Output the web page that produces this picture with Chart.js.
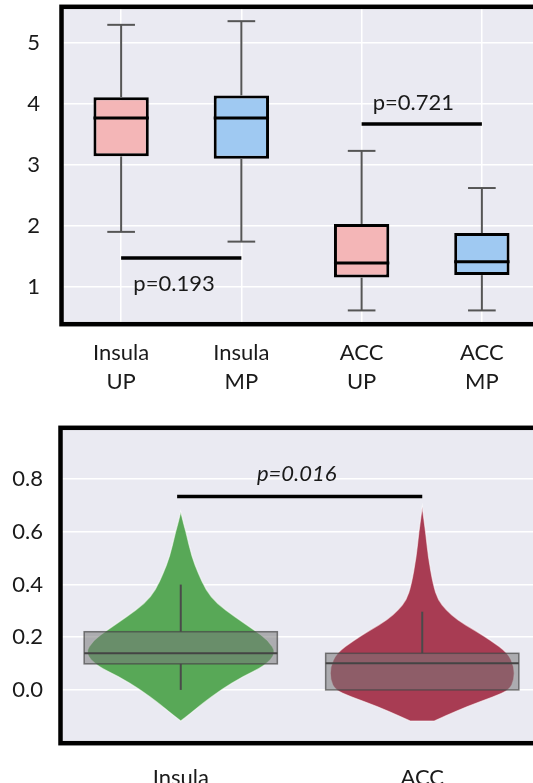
<!DOCTYPE html>
<html>
<head>
<meta charset="utf-8">
<script src="https://cdn.jsdelivr.net/npm/chart.js@4.4.1/dist/chart.umd.min.js"></script>
<style>
  html, body { margin: 0; padding: 0; background: #fff; overflow: hidden; }
  body { width: 533px; height: 783px; position: relative; }
  canvas { position: absolute; left: 0; }
  #topChart { top: 0; }
  #bottomChart { top: 410px; }
</style>
</head>
<body>
<canvas id="topChart" width="560" height="400"></canvas>
<canvas id="bottomChart" width="560" height="373"></canvas>
<script>
// Top panel: box plots
const topCategories = [['Insula', 'UP'], ['Insula', 'MP'], ['ACC', 'UP'], ['ACC', 'MP']];
const topWhiskerLow = [1.90, 1.74, 0.61, 0.61];
const topQ1 = [3.14, 3.10, 1.15, 1.19];
const topMedian = [3.77, 3.77, 1.39, 1.41];
const topQ3 = [4.11, 4.14, 2.03, 1.88];
const topWhiskerHigh = [5.30, 5.36, 3.23, 2.62];
const topTicks = [1, 2, 3, 4, 5];

// p-value brackets (from category, to category, height) and labels
const topPLabels = ['p=0.193', 'p=0.721'];
const topPFrom = [0, 2];
const topPTo = [1, 3];
const topPLevel = [1.47, 3.67];

// Bottom panel: violins
const violinGroups = ['Insula', 'ACC'];
const insulaLevels = [0.677, 0.632, 0.595, 0.506, 0.443, 0.380, 0.329, 0.278, 0.228, 0.190, 0.139, 0.089, 0.051, 0.000, -0.051, -0.089, -0.118];
const insulaDensity = [0, 0.012, 0.023, 0.046, 0.073, 0.104, 0.149, 0.224, 0.303, 0.361, 0.398, 0.344, 0.257, 0.166, 0.091, 0.041, 0];
const accLevels = [0.696, 0.595, 0.506, 0.398, 0.342, 0.304, 0.266, 0.228, 0.190, 0.139, 0.089, 0.038, 0.000, -0.025, -0.063, -0.101, -0.118];
const accDensity = [0, 0.015, 0.025, 0.046, 0.066, 0.099, 0.145, 0.215, 0.282, 0.356, 0.381, 0.381, 0.361, 0.298, 0.186, 0.091, 0.050];
const violinLow = [0.0, 0.0];
const violinQ1 = [0.099, 0.0];
const violinMedian = [0.139, 0.101];
const violinQ3 = [0.221, 0.139];
const violinHigh = [0.40, 0.297];
const bottomTicks = [0, 0.2, 0.4, 0.6, 0.8];
const bottomPLabel = 'p=0.016';
const bottomPLevel = 0.734;

const FONT = 'Lato, "Open Sans", sans-serif';
const TEXT = '#1a1a1a';
const PANEL_BG = '#eaeaf2';

const panelBackground = {
  id: 'panelBackground',
  beforeDraw(chart) {
    const { ctx, chartArea: a } = chart;
    ctx.save();
    ctx.fillStyle = PANEL_BG;
    ctx.fillRect(a.left, a.top, a.right - a.left, a.bottom - a.top);
    ctx.restore();
  },
};

function drawFrame(chart) {
  const { ctx, chartArea: a } = chart;
  ctx.save();
  ctx.strokeStyle = '#000';
  ctx.lineWidth = 4.5;
  ctx.strokeRect(a.left + 0.5, a.top - 2.2, a.right - a.left + 10, a.bottom - a.top + 4.4);
  ctx.restore();
}

// keep the axes from reserving room for half a label at each end
function noEndPadding(s) {
  s.paddingTop = 0;
  s.paddingBottom = 0;
  s.paddingLeft = 0;
  s.paddingRight = 0;
}

function hLine(ctx, x1, x2, y, color, width) {
  ctx.beginPath();
  ctx.strokeStyle = color;
  ctx.lineWidth = width;
  ctx.moveTo(x1, y);
  ctx.lineTo(x2, y);
  ctx.stroke();
}

function vLine(ctx, x, y1, y2, color, width) {
  ctx.beginPath();
  ctx.strokeStyle = color;
  ctx.lineWidth = width;
  ctx.moveTo(x, y1);
  ctx.lineTo(x, y2);
  ctx.stroke();
}

// whiskers, caps, medians and p-value brackets for the box plots
const topBoxDecor = {
  id: 'topBoxDecor',
  afterDatasetsDraw(chart) {
    const { ctx, scales: { x, y } } = chart;
    ctx.save();
    topCategories.forEach((c, i) => {
      const cx = x.getPixelForValue(i);
      const capL = x.getPixelForValue(i - 0.115);
      const capR = x.getPixelForValue(i + 0.115);
      vLine(ctx, cx, y.getPixelForValue(topQ3[i]), y.getPixelForValue(topWhiskerHigh[i]), '#555', 2);
      vLine(ctx, cx, y.getPixelForValue(topQ1[i]), y.getPixelForValue(topWhiskerLow[i]), '#555', 2);
      hLine(ctx, capL, capR, y.getPixelForValue(topWhiskerHigh[i]), '#555', 2);
      hLine(ctx, capL, capR, y.getPixelForValue(topWhiskerLow[i]), '#555', 2);
      const bar = chart.getDatasetMeta(0).data[i];
      hLine(ctx, bar.x - bar.width / 2, bar.x + bar.width / 2, y.getPixelForValue(topMedian[i]), '#000', 3);
    });
    topPLabels.forEach((label, i) => {
      const py = y.getPixelForValue(topPLevel[i]);
      hLine(ctx, x.getPixelForValue(topPFrom[i]), x.getPixelForValue(topPTo[i]), py, '#000', 3.5);
    });
    ctx.fillStyle = TEXT;
    ctx.font = '22px ' + FONT;
    ctx.textAlign = 'center';
    ctx.textBaseline = 'middle';
    ctx.fillText(topPLabels[0], x.getPixelForValue(0.44), y.getPixelForValue(1.05));
    ctx.fillText(topPLabels[1], x.getPixelForValue(2.43), y.getPixelForValue(4.02));
    ctx.restore();
  },
  afterDraw: drawFrame,
};

new Chart(document.getElementById('topChart'), {
  type: 'bar',
  data: {
    labels: topCategories,
    datasets: [{
      data: topQ1.map((q, i) => [q, topQ3[i]]),
      backgroundColor: ['#f4b6b7', '#9fc9f2', '#f4b6b7', '#9fc9f2'],
      borderColor: '#000',
      borderWidth: 3,
      borderSkipped: false,
      barPercentage: 0.46,
      categoryPercentage: 1,
    }],
  },
  options: {
    responsive: false,
    animation: false,
    layout: { padding: { top: 9, right: 18, left: 0, bottom: 0 } },
    scales: {
      x: {
        grid: { color: '#fff', lineWidth: 1.5, offset: false, drawTicks: false },
        border: { display: false },
        ticks: {
          color: TEXT,
          font: { family: FONT, size: 22, lineHeight: 1.3 },
          padding: 17,
          maxRotation: 0,
        },
        afterFit: (s) => { s.height = 78; noEndPadding(s); },
      },
      y: {
        min: 0.42,
        max: 5.56,
        afterBuildTicks: (s) => { s.ticks = topTicks.map((v) => ({ value: v })); },
        grid: { color: '#fff', lineWidth: 1.5, drawTicks: false },
        border: { display: false },
        ticks: { color: TEXT, font: { family: FONT, size: 22 }, padding: 21 },
        afterFit: (s) => { s.width = 61; noEndPadding(s); },
      },
    },
    plugins: { legend: { display: false }, tooltip: { enabled: false } },
  },
  plugins: [panelBackground, topBoxDecor],
});

// smooth outline through the violin edge points
function tracePath(ctx, pts) {
  ctx.lineTo(pts[0][0], pts[0][1]);
  for (let k = 1; k < pts.length - 1; k++) {
    const mx = (pts[k][0] + pts[k + 1][0]) / 2;
    const my = (pts[k][1] + pts[k + 1][1]) / 2;
    ctx.quadraticCurveTo(pts[k][0], pts[k][1], mx, my);
  }
  ctx.lineTo(pts[pts.length - 1][0], pts[pts.length - 1][1]);
}

const violinDecor = {
  id: 'violinDecor',
  afterDatasetsDraw(chart) {
    const { ctx, chartArea: a, scales: { x, y } } = chart;
    const shapes = [
      { levels: insulaLevels, dens: insulaDensity, color: '#58a857' },
      { levels: accLevels, dens: accDensity, color: '#a83c53' },
    ];
    ctx.save();
    ctx.beginPath();
    ctx.rect(a.left, a.top, a.right - a.left, a.bottom - a.top);
    ctx.clip();
    shapes.forEach((s, i) => {
      const right = s.levels.map((v, k) => [x.getPixelForValue(i + s.dens[k]), y.getPixelForValue(v)]);
      const left = s.levels.map((v, k) => [x.getPixelForValue(i - s.dens[k]), y.getPixelForValue(v)]).reverse();
      ctx.beginPath();
      ctx.moveTo(right[0][0], right[0][1]);
      tracePath(ctx, right);
      tracePath(ctx, left);
      ctx.closePath();
      ctx.fillStyle = s.color;
      ctx.fill();
      ctx.strokeStyle = 'rgba(255,255,255,0.6)';
      ctx.lineWidth = 1.2;
      ctx.stroke();

      const cx = x.getPixelForValue(i);
      const bl = x.getPixelForValue(i - 0.40);
      const br = x.getPixelForValue(i + 0.40);
      const yq1 = y.getPixelForValue(violinQ1[i]);
      const yq3 = y.getPixelForValue(violinQ3[i]);
      vLine(ctx, cx, yq3, y.getPixelForValue(violinHigh[i]), '#4a4a4a', 2);
      vLine(ctx, cx, yq1, y.getPixelForValue(violinLow[i]), '#4a4a4a', 2);
      ctx.fillStyle = 'rgba(120,120,122,0.55)';
      ctx.fillRect(bl, yq3, br - bl, yq1 - yq3);
      ctx.strokeStyle = 'rgba(70,70,70,0.7)';
      ctx.lineWidth = 1.5;
      ctx.strokeRect(bl, yq3, br - bl, yq1 - yq3);
      hLine(ctx, bl, br, y.getPixelForValue(violinMedian[i]), '#444', 2);
    });
    ctx.restore();

    ctx.save();
    const py = y.getPixelForValue(bottomPLevel);
    hLine(ctx, x.getPixelForValue(-0.015), x.getPixelForValue(1.0), py, '#000', 3.5);
    ctx.fillStyle = TEXT;
    ctx.font = 'italic 22px ' + FONT;
    ctx.textAlign = 'center';
    ctx.textBaseline = 'middle';
    ctx.fillText(bottomPLabel, x.getPixelForValue(0.48), y.getPixelForValue(0.82));
    ctx.restore();
  },
  afterDraw: drawFrame,
};

new Chart(document.getElementById('bottomChart'), {
  type: 'scatter',
  data: {
    datasets: [{
      data: violinMedian.map((m, i) => ({ x: i, y: m })),
      pointRadius: 0,
    }],
  },
  options: {
    responsive: false,
    animation: false,
    layout: { padding: { top: 20, right: 17, left: 0, bottom: 0 } },
    scales: {
      x: {
        type: 'linear',
        min: -0.5,
        max: 1.5,
        afterBuildTicks: (s) => { s.ticks = violinGroups.map((g, i) => ({ value: i })); },
        grid: { display: false },
        border: { display: false },
        ticks: {
          color: TEXT,
          font: { family: FONT, size: 22 },
          padding: 16,
          callback: (v) => violinGroups[v],
        },
        afterFit: (s) => { s.height = 42; noEndPadding(s); },
      },
      y: {
        min: -0.194,
        max: 0.987,
        afterBuildTicks: (s) => { s.ticks = bottomTicks.map((v) => ({ value: v })); },
        grid: { color: '#fff', lineWidth: 1.5, drawTicks: false },
        border: { display: false },
        ticks: {
          color: TEXT,
          font: { family: FONT, size: 22 },
          padding: 17,
          callback: (v) => Number(v).toFixed(1),
        },
        afterFit: (s) => { s.width = 60; noEndPadding(s); },
      },
    },
    plugins: { legend: { display: false }, tooltip: { enabled: false } },
  },
  plugins: [panelBackground, violinDecor],
});
</script>
</body>
</html>
